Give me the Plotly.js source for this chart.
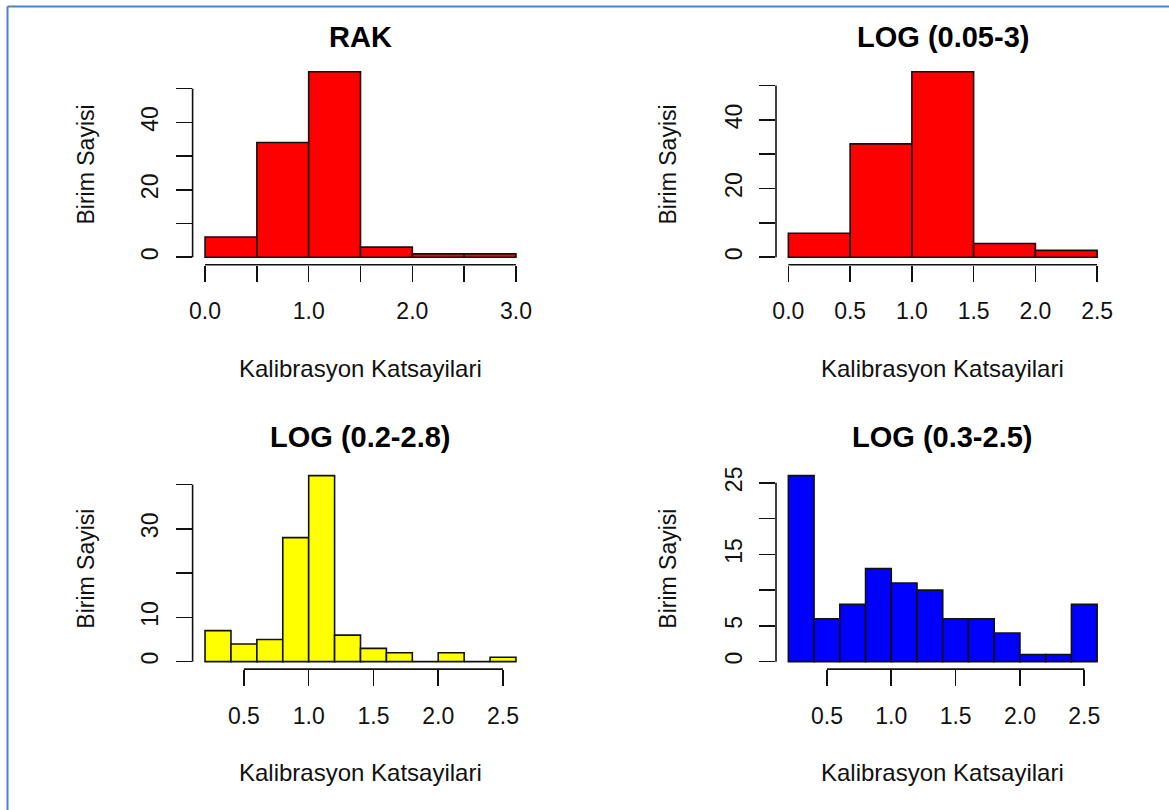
<!DOCTYPE html>
<html><head><meta charset="utf-8">
<script src="https://cdn.plot.ly/plotly-3.0.1.min.js"></script>
<style>html,body{margin:0;padding:0;background:#fff;} #chart{width:1169px;height:810px;}</style>
</head><body><div id="chart"></div>
<script>
// ---- data ----
const panelTitles = ["RAK", "LOG (0.05-3)", "LOG (0.2-2.8)", "LOG (0.3-2.5)"];
const barColors = ["#FF0000", "#FF0000", "#FFFF00", "#0000FF"];

const breaksRAK = [0, 0.5, 1.0, 1.5, 2.0, 2.5, 3.0];
const countsRAK = [6, 34, 55, 3, 1, 1];

const breaksLOG005 = [0, 0.5, 1.0, 1.5, 2.0, 2.5];
const countsLOG005 = [7, 33, 54, 4, 2];

const breaksLOG02 = [0.2, 0.4, 0.6, 0.8, 1.0, 1.2, 1.4, 1.6, 1.8, 2.0, 2.2, 2.4, 2.6];
const countsLOG02 = [7, 4, 5, 28, 42, 6, 3, 2, 0, 2, 0, 1];

const breaksLOG03 = [0.2, 0.4, 0.6, 0.8, 1.0, 1.2, 1.4, 1.6, 1.8, 2.0, 2.2, 2.4, 2.6];
const countsLOG03 = [26, 6, 8, 13, 11, 10, 6, 6, 4, 1, 1, 8];

const yTicksRAK = [0, 10, 20, 30, 40, 50];
const yLabelsRAK = ["0", "", "20", "", "40", ""];
const yTicksLOG005 = [0, 10, 20, 30, 40, 50];
const yLabelsLOG005 = ["0", "", "20", "", "40", ""];
const yTicksLOG02 = [0, 10, 20, 30, 40];
const yLabelsLOG02 = ["0", "10", "", "30", ""];
const yTicksLOG03 = [0, 5, 10, 15, 20, 25];
const yLabelsLOG03 = ["0", "5", "", "15", "", "25"];

const xTicksRAK = [0, 0.5, 1.0, 1.5, 2.0, 2.5, 3.0];
const xLabelsRAK = ["0.0", "", "1.0", "", "2.0", "", "3.0"];
const xTicksLOG005 = [0, 0.5, 1.0, 1.5, 2.0, 2.5];
const xLabelsLOG005 = ["0.0", "0.5", "1.0", "1.5", "2.0", "2.5"];
const xTicksLOG02 = [0.5, 1.0, 1.5, 2.0, 2.5];
const xLabelsLOG02 = ["0.5", "1.0", "1.5", "2.0", "2.5"];
const xTicksLOG03 = [0.5, 1.0, 1.5, 2.0, 2.5];
const xLabelsLOG03 = ["0.5", "1.0", "1.5", "2.0", "2.5"];

const xAxisTitle = "Kalibrasyon Katsayilari";
const yAxisTitle = "Birim Sayisi";

// ---- layout ----
const W = 1169, H = 810;
const FONT = "Liberation Sans, Arial, sans-serif";
const ink = "#111111";
const panels = [
  {b: breaksRAK, c: countsRAK, yt: yTicksRAK, yl: yLabelsRAK, xt: xTicksRAK, xl: xLabelsRAK},
  {b: breaksLOG005, c: countsLOG005, yt: yTicksLOG005, yl: yLabelsLOG005, xt: xTicksLOG005, xl: xLabelsLOG005},
  {b: breaksLOG02, c: countsLOG02, yt: yTicksLOG02, yl: yLabelsLOG02, xt: xTicksLOG02, xl: xLabelsLOG02},
  {b: breaksLOG03, c: countsLOG03, yt: yTicksLOG03, yl: yLabelsLOG03, xt: xTicksLOG03, xl: xLabelsLOG03}
];
const xDom = [[192.6 / W, 528.4 / W], [776 / W, 1109.5 / W]];
const yDom = [[1 - 264.7 / H, 1 - 64.3 / H], [1 - 669.1 / H, 1 - 468.2 / H]];

const traces = [];
const layout = {
  width: W, height: H,
  margin: {l: 0, r: 0, t: 0, b: 0},
  paper_bgcolor: "#ffffff", plot_bgcolor: "rgba(0,0,0,0)",
  showlegend: false,
  bargap: 0,
  font: {family: FONT, color: ink},
  annotations: [], shapes: []
};

panels.forEach((p, i) => {
  const col = i % 2, row = Math.floor(i / 2);
  const n = i + 1;
  const xa = n === 1 ? "x" : "x" + n, ya = n === 1 ? "y" : "y" + n;
  const xKey = n === 1 ? "xaxis" : "xaxis" + n, yKey = n === 1 ? "yaxis" : "yaxis" + n;
  const mids = [], widths = [];
  for (let k = 0; k < p.c.length; k++) {
    mids.push((p.b[k] + p.b[k + 1]) / 2);
    widths.push(p.b[k + 1] - p.b[k]);
  }
  traces.push({
    type: "bar", x: mids, y: p.c, width: widths, xaxis: xa, yaxis: ya,
    marker: {color: barColors[i], line: {color: ink, width: 1.6}},
    hoverinfo: "x+y"
  });
  const b0 = p.b[0], b1 = p.b[p.b.length - 1];
  const xr = [b0 - 0.04 * (b1 - b0), b1 + 0.04 * (b1 - b0)];
  const ymax = Math.max(...p.c);
  const yr = [-0.04 * ymax, 1.04 * ymax];
  const common = {
    showgrid: false, zeroline: false, showline: false,
    ticks: "outside", ticklen: 16, tickwidth: 1.6, tickcolor: ink,
    tickfont: {family: FONT, size: 23, color: ink},
    fixedrange: true
  };
  layout[xKey] = Object.assign({}, common, {
    domain: xDom[col], range: xr, anchor: ya,
    tickmode: "array", tickvals: p.xt, ticktext: p.xl, ticklabelstandoff: 10
  });
  layout[yKey] = Object.assign({}, common, {
    domain: yDom[row], range: yr, anchor: xa,
    tickmode: "array", tickvals: p.yt, ticktext: p.yl, tickangle: -90, ticklabelstandoff: 8
  });
  // R-style axis lines spanning first..last tick
  const fy = v => (v - yr[0]) / (yr[1] - yr[0]);
  const fx = v => (v - xr[0]) / (xr[1] - xr[0]);
  layout.shapes.push({
    type: "line", xref: xa + " domain", yref: ya + " domain",
    x0: 0, x1: 0, y0: fy(p.yt[0]), y1: fy(p.yt[p.yt.length - 1]),
    line: {color: ink, width: 1.6}
  });
  layout.shapes.push({
    type: "line", xref: xa + " domain", yref: ya + " domain",
    x0: fx(p.xt[0]), x1: fx(p.xt[p.xt.length - 1]), y0: 0, y1: 0,
    line: {color: ink, width: 1.6}
  });
  // titles
  const cx = (xDom[col][0] + xDom[col][1]) / 2;
  const cy = (yDom[row][0] + yDom[row][1]) / 2;
  layout.annotations.push({
    text: "<b>" + panelTitles[i] + "</b>", xref: "paper", yref: "paper",
    x: cx, y: row === 0 ? 1 - 37 / H : 1 - 437 / H, xanchor: "center", yanchor: "middle",
    showarrow: false, font: {family: FONT, size: 29, color: "#000"}
  });
  layout.annotations.push({
    text: xAxisTitle, xref: "paper", yref: "paper",
    x: cx, y: row === 0 ? 1 - 369 / H : 1 - 772 / H, xanchor: "center", yanchor: "middle",
    showarrow: false, font: {family: FONT, size: 24, color: ink}
  });
  layout.annotations.push({
    text: yAxisTitle, xref: "paper", yref: "paper", textangle: -90,
    x: col === 0 ? 86 / W : 668 / W, y: cy, xanchor: "center", yanchor: "middle",
    showarrow: false, font: {family: FONT, size: 23, color: ink}
  });
});

// page frame (left and top blue border)
layout.shapes.push({type: "line", xref: "paper", yref: "paper", x0: 7.5 / W, x1: 7.5 / W, y0: 0, y1: 1 - 6.5 / H, line: {color: "#4F81C7", width: 2}});
layout.shapes.push({type: "line", xref: "paper", yref: "paper", x0: 7.5 / W, x1: 1, y0: 1 - 6.5 / H, y1: 1 - 6.5 / H, line: {color: "#4F81C7", width: 2}});

Plotly.newPlot("chart", traces, layout, {displayModeBar: false, staticPlot: true});
</script>
</body></html>
